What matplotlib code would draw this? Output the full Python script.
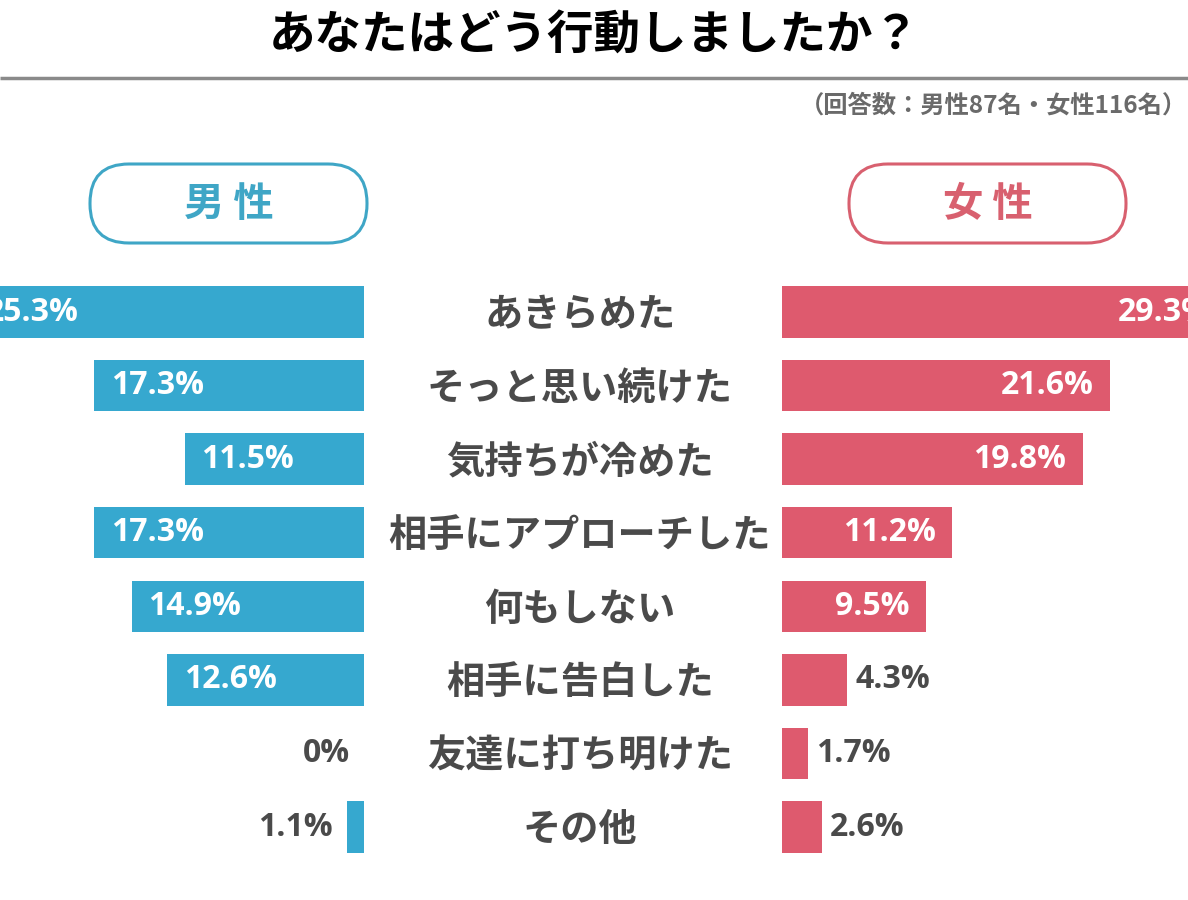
import matplotlib.pyplot as plt
import matplotlib.transforms as mtransforms
from matplotlib.patches import FancyBboxPatch

plt.rcParams['font.family'] = ['Noto Sans CJK JP', 'DejaVu Sans']

# data
categories = ['あきらめた', 'そっと思い続けた', '気持ちが冷めた', '相手にアプローチした',
              '何もしない', '相手に告白した', '友達に打ち明けた', 'その他']
male = [25.3, 17.3, 11.5, 17.3, 14.9, 12.6, 0.0, 1.1]
female = [29.3, 21.6, 19.8, 11.2, 9.5, 4.3, 1.7, 2.6]
male_labels = ['25.3%', '17.3%', '11.5%', '17.3%', '14.9%', '12.6%', '0%', '1.1%']
female_labels = ['29.3%', '21.6%', '19.8%', '11.2%', '9.5%', '4.3%', '1.7%', '2.6%']

BLUE = '#36a8cf'
RED = '#de5a6e'
GRAY = '#4a4a4a'
W, H = 1188, 900

fig = plt.figure(figsize=(W / 100, H / 100), dpi=100)

# overlay in pixel coords for decorations
deco = fig.add_axes([0, 0, 1, 1])
deco.set_xlim(0, W)
deco.set_ylim(H, 0)
deco.axis('off')

deco.text(W / 2, 36, 'あなたはどう行動しましたか？', ha='center', va='center',
          fontsize=33.5, fontweight='bold', color='black')
deco.plot([0, W], [78, 78], color='#8a8a8a', lw=2.5, solid_capstyle='butt')
deco.text(1187, 106, '（回答数：男性87名・女性116名）', ha='right', va='center',
          fontsize=17.5, fontweight='bold', color='#6a6a6a')

for x0, x1, txt, col in [(90, 367, '男 性', '#3fa6c6'), (849, 1126, '女 性', '#d8606f')]:
    box = FancyBboxPatch((x0, 164), x1 - x0, 79,
                         boxstyle='round,pad=0,rounding_size=39',
                         fc='white', ec=col, lw=2.2)
    deco.add_patch(box)
    deco.text((x0 + x1) / 2, 205, txt, ha='center', va='center',
              fontsize=29, fontweight='bold', color=col)

# bar axes
y_top, y_bot = 312, 827
step = (y_bot - y_top) / (len(categories) - 1)
ay0 = 1 - (y_bot + step / 2) / H
ah = (y_bot - y_top + step) / H
ax_l = fig.add_axes([0, ay0, 364 / W, ah])
ax_r = fig.add_axes([782 / W, ay0, (W - 782) / W, ah])
ax_l.set_xlim(364 / 15.6, 0)
ax_r.set_xlim(0, (W - 782) / 15.2)
ypos = list(range(len(categories)))
for ax in (ax_l, ax_r):
    ax.set_ylim(len(categories) - 0.5, -0.5)
    ax.axis('off')

ax_l.barh(ypos, male, height=0.7, color=BLUE)
ax_r.barh(ypos, female, height=0.7, color=RED)

# the first bars run past the figure edge, so their labels are cut as in the source
vfont = dict(fontsize=23, fontweight='bold', family=['Open Sans', 'DejaVu Sans'],
             va='center', annotation_clip=False)
for y, v, lab in zip(ypos, male, male_labels):
    if v >= 5:
        ax_l.annotate(lab, (v, y), xytext=(12, 0), textcoords='offset points',
                      ha='left', color='white', **vfont)
    else:
        ax_l.annotate(lab, (v, y), xytext=(-10, 0), textcoords='offset points',
                      ha='right', color=GRAY, **vfont)
for y, v, lab in zip(ypos, female, female_labels):
    if v >= 5:
        ax_r.annotate(lab, (v, y), xytext=(-12, 0), textcoords='offset points',
                      ha='right', color='white', **vfont)
    else:
        ax_r.annotate(lab, (v, y), xytext=(6, 0), textcoords='offset points',
                      ha='left', color=GRAY, **vfont)

trans = mtransforms.blended_transform_factory(fig.transFigure, ax_r.transData)
for y, c in zip(ypos, categories):
    fig.text(580 / W, y + 0.04, c, transform=trans, ha='center', va='center',
             fontsize=27.5, fontweight='bold', color=GRAY)

fig.savefig('out.png', dpi=100)
